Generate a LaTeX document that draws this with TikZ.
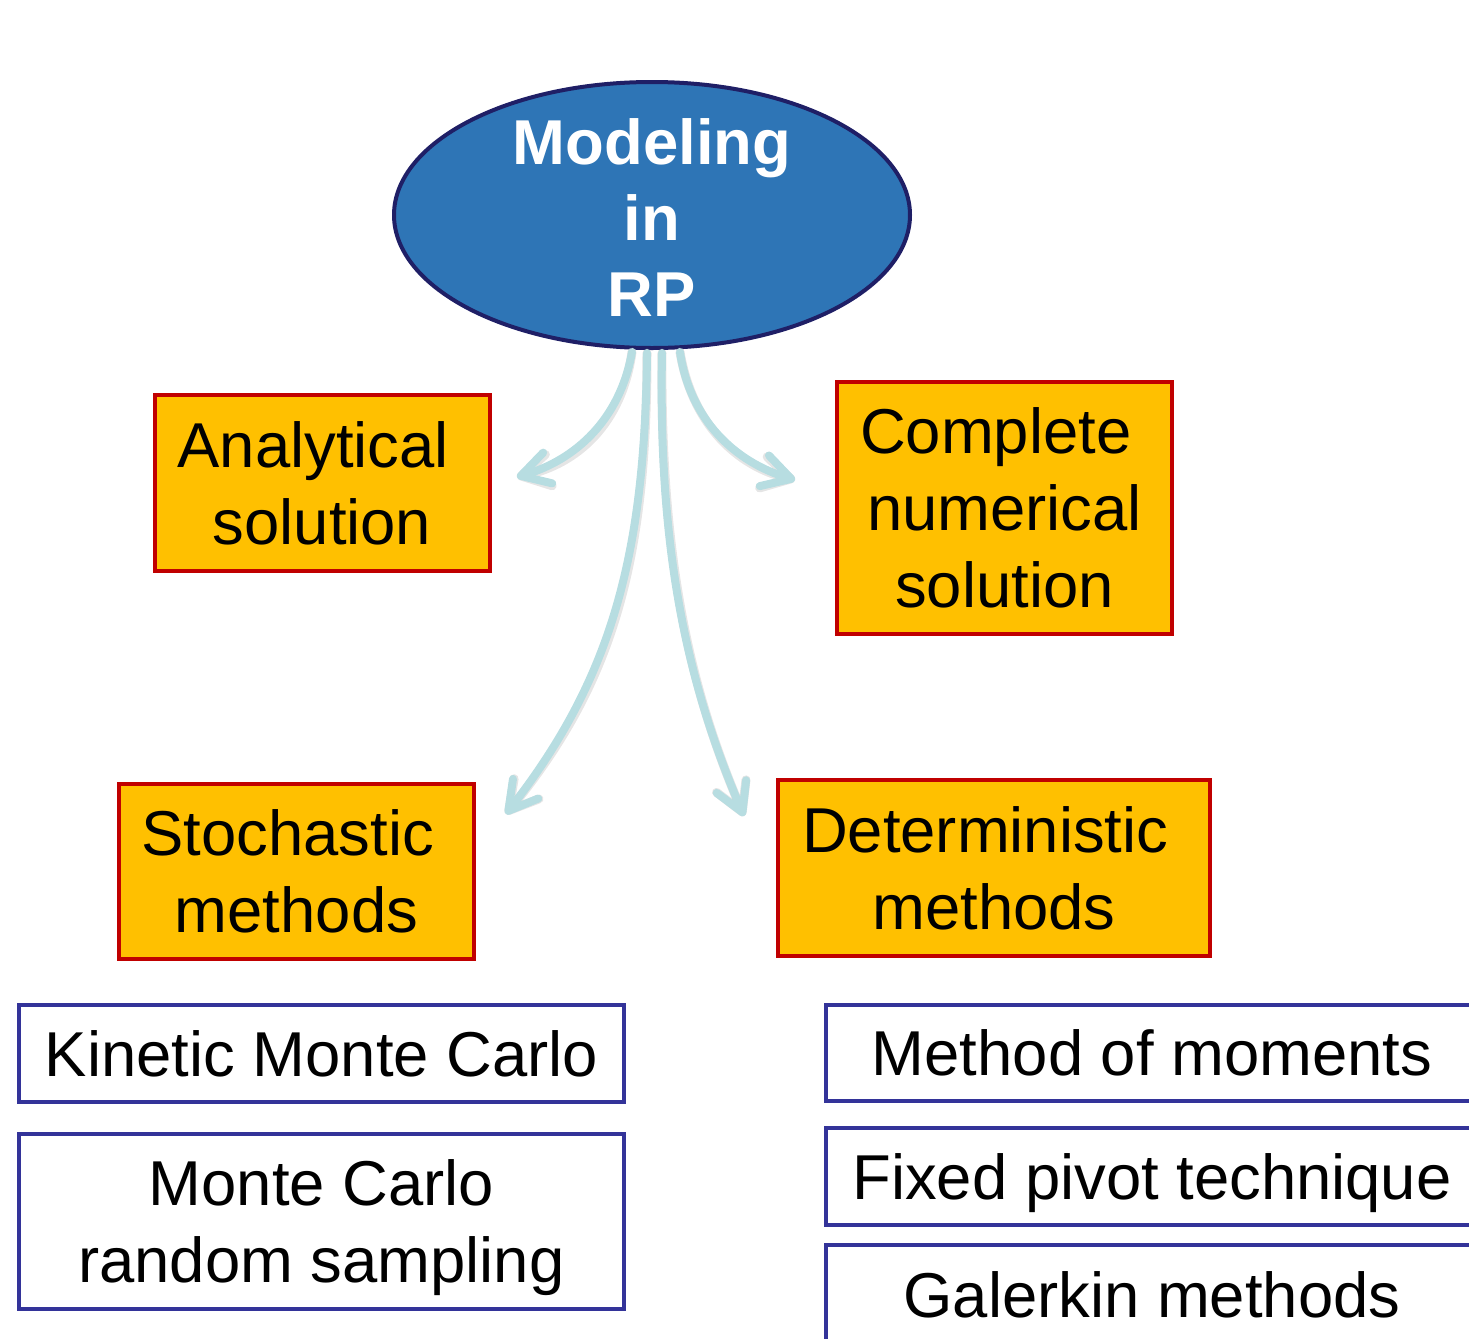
\documentclass[tikz,border=0pt]{standalone}
\usepackage{fontspec}
\setmainfont{Liberation Sans}
\usetikzlibrary{shapes.geometric,arrows.meta}

\definecolor{ellfill}{HTML}{2E75B6}
\definecolor{elldraw}{HTML}{1F1F66}
\definecolor{boxfill}{HTML}{FFC000}
\definecolor{boxdraw}{HTML}{C00000}
\definecolor{listdraw}{HTML}{333399}
\definecolor{flow}{HTML}{B7DDE1}

% word followed by a trailing space that still counts for centring
\newcommand\trail[1]{#1\kern0.278em\null}

\tikzset{
  txt/.style={font=\fontsize{31.7pt}{38.5pt}\selectfont, align=center, inner sep=0pt, text depth=0pt},
  hub/.style={ellipse, draw=elldraw, line width=2pt, fill=ellfill,
    minimum width=258pt, minimum height=133pt, inner sep=0pt},
  hubtext/.style={txt, text=white, font=\fontsize{31.7pt}{38pt}\selectfont\bfseries},
  catbox/.style={txt, draw=boxdraw, fill=boxfill, line width=2pt},
  itembox/.style={txt, draw=listdraw, fill=white, line width=2pt},
  branch/.style={draw=flow, line width=4pt, line cap=round,
    -{Straight Barb[length=14pt,width=16pt,round]}},
  branchshadow/.style={draw=black!40, opacity=0.25, line width=4.5pt, line cap=round,
    -{Straight Barb[length=14pt,width=16pt,round]}}
}

\begin{document}
\begin{tikzpicture}[x=0.5pt,y=-0.5pt]
  \useasboundingbox (0,0) rectangle (1469,1339);
  \clip (0,0) rectangle (1469,1339);

  % central topic
  \node[hub] (hub) at (652,215) {};
  \node[hubtext] (hubt) at (652,218) {Modeling\\in\\RP};

  % main categories
  \node[catbox, minimum width=167.5pt, minimum height=88pt] (ana) at (322,483) {\trail{Analytical}\\solution};
  \node[catbox, minimum width=167.5pt, minimum height=126pt] (comp) at (1004.5,508) {\trail{Complete}\\numerical\\solution};
  \node[catbox, minimum width=177.5pt, minimum height=87.5pt] (stoch) at (296.5,871.5) {\trail{Stochastic}\\methods};
  \node[catbox, minimum width=216pt, minimum height=88pt] (det) at (994,868) {\trail{Deterministic}\\methods};

  % stochastic approaches
  \node[itembox, minimum width=302.5pt, minimum height=48.5pt] (kmc) at (321.5,1053.5) {Kinetic Monte Carlo};
  \node[itembox, minimum width=302.5pt, minimum height=87.5pt] (mcrs) at (321.5,1221.5) {Monte Carlo\\random sampling};

  % deterministic approaches
  \node[itembox, minimum width=326pt, minimum height=48pt] (mom) at (1152,1053) {Method of moments};
  \node[itembox, minimum width=326pt, minimum height=48.5pt] (fpt) at (1152,1176.5) {Fixed pivot technique};
  \node[itembox, minimum width=326pt, minimum height=50pt] (gal) at (1152,1295) {Galerkin methods};

  % branch end points
  \coordinate (s1) at (632,352);
  \coordinate (e1) at (517,477);
  \coordinate (s2) at (647,353);
  \coordinate (e2) at (506,814);
  \coordinate (s3) at (662,353);
  \coordinate (e3) at (744,816);
  \coordinate (s4) at (680,352);
  \coordinate (e4) at (795,480);

  % soft shadows under the branches
  \begin{scope}[shift={(2,4)}]
    \draw[branchshadow] (s1) .. controls (620,420) and (575,460) .. (e1);
    \draw[branchshadow] (s2) .. controls (645,560) and (610,680) .. (e2);
    \draw[branchshadow] (s3) .. controls (658,560) and (690,690) .. (e3);
    \draw[branchshadow] (s4) .. controls (690,420) and (735,462) .. (e4);
  \end{scope}

  % branches from the central topic
  \draw[branch] (s1) .. controls (620,420) and (575,460) .. (e1);
  \draw[branch] (s2) .. controls (645,560) and (610,680) .. (e2);
  \draw[branch] (s3) .. controls (658,560) and (690,690) .. (e3);
  \draw[branch] (s4) .. controls (690,420) and (735,462) .. (e4);
\end{tikzpicture}
\end{document}
